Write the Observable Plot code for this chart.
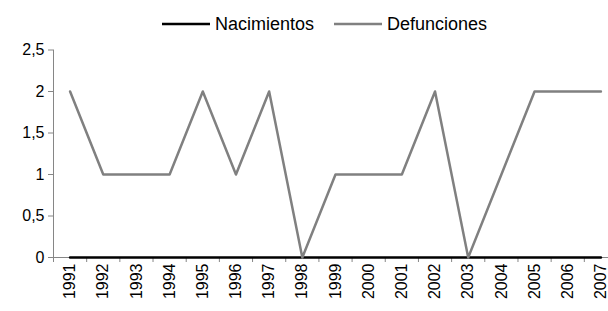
<!DOCTYPE html>
<html>
<head>
<meta charset="utf-8">
<script src="https://cdn.jsdelivr.net/npm/d3@7"></script>
<script src="https://cdn.jsdelivr.net/npm/@observablehq/plot@0.6"></script>
<style>
  body { margin: 0; background: #fff; font-family: "Liberation Sans", Arial, sans-serif; }
  #wrap { position: relative; width: 608px; height: 311px; overflow: hidden; }
  #legend { position: absolute; left: 0; top: 0; height: 48px; width: 608px; display: flex; justify-content: flex-start; align-items: center; padding-left: 162px; box-sizing: border-box; font-size: 18px; color: #000; }
  .item { display: flex; align-items: center; margin-right: 20px; }
  .item svg { display: block; margin-right: 5px; }
</style>
</head>
<body>
<div id="wrap">
<div id="chart"></div>
<div id="legend"></div>
</div>
<script>
const years = [1991,1992,1993,1994,1995,1996,1997,1998,1999,2000,2001,2002,2003,2004,2005,2006,2007];
const nacimientos = [0,0,0,0,0,0,0,0,0,0,0,0,0,0,0,0,0];
const defunciones = [2,1,1,1,2,1,2,0,1,1,1,2,0,1,2,2,2];
const yTicks = [0,0.5,1,1.5,2,2.5];
const seriesNames = ["Nacimientos","Defunciones"];
const seriesColors = ["#000000","#808080"];

const rows = [];
years.forEach((y,i) => {
  rows.push({year: y, value: nacimientos[i], serie: seriesNames[0]});
  rows.push({year: y, value: defunciones[i], serie: seriesNames[1]});
});

const legend = document.getElementById("legend");
seriesNames.forEach((name,i) => {
  const it = document.createElement("div");
  it.className = "item";
  it.innerHTML = `<svg width="48" height="6"><line x1="0" x2="48" y1="3" y2="3" stroke="${seriesColors[i]}" stroke-width="2.5"/></svg><span>${name}</span>`;
  legend.appendChild(it);
});

const axisColor = "#868686";
const bounds = years.map(y => y - 0.5).concat([years[years.length-1] + 0.5]);
const fmt = d => String(d).replace(".", ",");

const chart = Plot.plot({
  width: 608,
  height: 311,
  marginTop: 49.5,
  marginBottom: 54,
  marginLeft: 53,
  marginRight: 0,
  style: {fontFamily: "'Liberation Sans', Arial, sans-serif", fontSize: "16px", background: "#fff", color: "#000"},
  x: {type: "linear", domain: [years[0]-0.5, years[years.length-1]+0.5], range: [53, 617]},
  y: {domain: [0, 2.5], range: [257, 49.5]},
  color: {domain: seriesNames, range: seriesColors},
  marks: [
    Plot.axisY(yTicks, {tickFormat: fmt, tickSize: 5, tickPadding: 4, stroke: axisColor, fill: "#000", fontSize: 16, label: null}),
    Plot.axisX(bounds, {tickFormat: () => "", tickSize: 5, stroke: axisColor, label: null}),
    Plot.axisX(years, {tickFormat: d => String(d), tickSize: 0, tickPadding: 6, tickRotate: -90, fill: "#000", fontSize: 16, label: null}),
    Plot.ruleX([years[0]-0.5], {y1: 0, y2: 2.5, stroke: axisColor, strokeWidth: 1}),
    Plot.ruleY([0], {stroke: axisColor, strokeWidth: 1}),
    Plot.line(rows.filter(d => d.serie === seriesNames[0]), {x: "year", y: "value", stroke: "serie", strokeWidth: 2.5}),
    Plot.line(rows.filter(d => d.serie === seriesNames[1]), {x: "year", y: "value", stroke: "serie", strokeWidth: 2.5})
  ]
});
document.getElementById("chart").appendChild(chart);
</script>
</body>
</html>
